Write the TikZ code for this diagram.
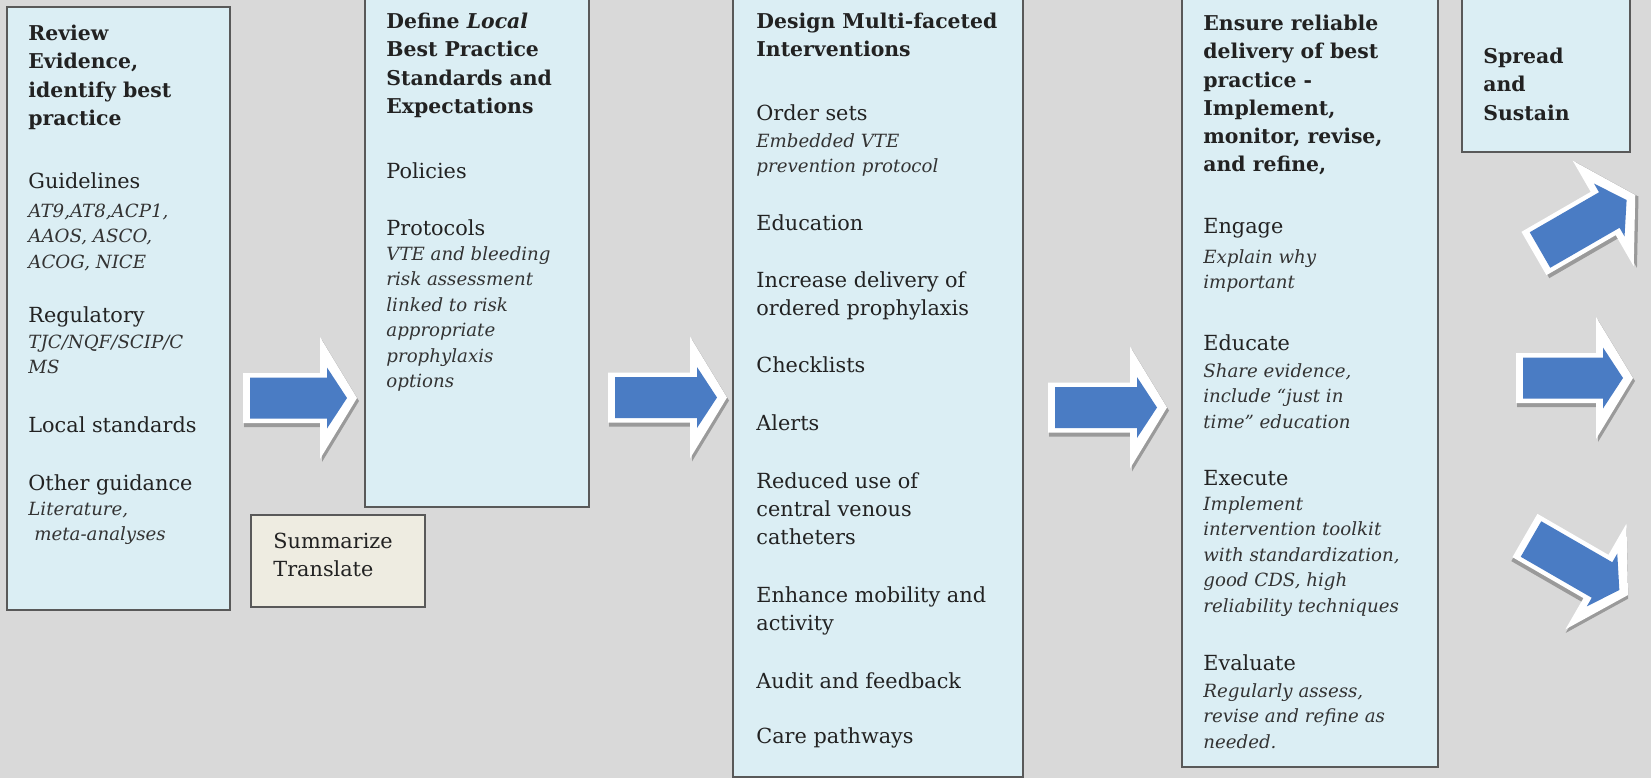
\documentclass[tikz,border=0pt]{standalone}
\usepackage{fontspec}
\setmainfont{DejaVu Serif}
\definecolor{bg}{HTML}{D9D9D9}
\definecolor{boxfill}{HTML}{DBEEF4}
\definecolor{tanfill}{HTML}{EEECE1}
\definecolor{edge}{HTML}{595959}
\definecolor{ablue}{HTML}{4A7CC4}
\definecolor{ashadow}{HTML}{9A9A9A}
\definecolor{ink}{HTML}{222222}
\definecolor{inkit}{HTML}{333333}
\newcommand\Rs{\rule{0pt}{9pt}}
% block arrow: #1,#2 = left-centre of blue body, #3 = angle, #4 = body length
\newcommand\blockarr[4]{%
  \begin{scope}[shift={(#1,#2)},rotate=#3]
    \fill[ashadow] (-6,-22) -- ({#4-5},-22) -- ({#4-5},-58) -- ({#4+32},3) -- ({#4-5},64) -- ({#4-5},29) -- (-6,29) -- cycle;
    \fill[white] (-7,-25) -- ({#4-7},-25) -- ({#4-7},-61) -- ({#4+30},0) -- ({#4-7},61) -- ({#4-7},25) -- (-7,25) -- cycle;
    \fill[ablue] (0,-20.5) -- (#4,-20.5) -- (#4,-30.5) -- ({#4+20},0) -- (#4,30.5) -- (#4,20.5) -- (0,20.5) -- cycle;
  \end{scope}}
\tikzset{
  bx/.style={draw=edge, line width=1.2pt, fill=boxfill},
  tanbx/.style={draw=edge, line width=1.2pt, fill=tanfill},
  rg/.style={anchor=north west, inner sep=0pt, align=left, text=ink, font=\fontsize{10.4}{14}\selectfont},
  bd/.style={rg, font=\bfseries\fontsize{10.2}{14.15}\selectfont},
  it/.style={rg, text=inkit, font=\itshape\fontsize{9.1}{12.75}\selectfont},
}
\begin{document}
\begin{tikzpicture}[x=0.5pt,y=-0.5pt]
\useasboundingbox (0,0) rectangle (1651,778);
\clip (0,0) rectangle (1651,778);
\fill[bg] (0,0) rectangle (1651,778);

% boxes
\draw[bx] (7,7) rectangle (230,610);
\draw[bx] (365,-5) rectangle (589,507);
\draw[tanbx] (251,515) rectangle (425,607);
\draw[bx] (733,-5) rectangle (1023,777);
\draw[bx] (1182,-5) rectangle (1438,767);
\draw[bx] (1462,-5) rectangle (1630,152);

% arrows
\blockarr{250}{398}{0}{77}
\blockarr{615}{397.5}{0}{82}
\blockarr{1055}{407.5}{0}{82}
\blockarr{1540}{250}{30}{80}
\blockarr{1523}{378}{0}{80}
\blockarr{1531}{539}{-30}{82}

% box 1
\node[bd] (b1t) at (28,22) {\Rs Review\\Evidence,\\identify best\\practice};
\node[rg] (b1a) at (28,170) {\Rs Guidelines};
\node[it] (b1ai) at (28,199) {\Rs AT9,AT8,ACP1,\\AAOS, ASCO,\\ACOG, NICE};
\node[rg] (b1b) at (28,304) {\Rs Regulatory};
\node[it] (b1bi) at (28,330) {\Rs TJC/NQF/SCIP/C\\MS};
\node[rg] (b1c) at (28,414) {\Rs Local standards};
\node[rg] (b1d) at (28,472) {\Rs Other guidance};
\node[it] (b1di) at (28,497) {\Rs Literature,\\\hspace{3pt}meta-analyses};

% box 2
\node[bd] (b2t) at (386,10) {\Rs Define \textit{Local}\\Best Practice\\Standards and\\Expectations};
\node[rg] (b2a) at (386,160) {\Rs Policies};
\node[rg] (b2b) at (386,217) {\Rs Protocols};
\node[it] (b2bi) at (386,242) {\Rs VTE and bleeding\\risk assessment\\linked to risk\\appropriate\\prophylaxis\\options};

% summarize
\node[rg] (sm) at (273,530) {\Rs Summarize\\Translate};

% box 3
\node[bd] (b3t) at (756,10) {\Rs Design Multi-faceted\\Interventions};
\node[rg] (b3a) at (756,102) {\Rs Order sets};
\node[it] (b3ai) at (756,129) {\Rs Embedded VTE\\prevention protocol};
\node[rg] (b3b) at (756,212) {\Rs Education};
\node[rg] (b3c) at (756,269) {\Rs Increase delivery of\\ordered prophylaxis};
\node[rg] (b3d) at (756,354) {\Rs Checklists};
\node[rg] (b3e) at (756,412) {\Rs Alerts};
\node[rg] (b3f) at (756,470) {\Rs Reduced use of\\central venous\\catheters};
\node[rg] (b3g) at (756,584) {\Rs Enhance mobility and\\activity};
\node[rg] (b3h) at (756,670) {\Rs Audit and feedback};
\node[rg] (b3i) at (756,725) {\Rs Care pathways};

% box 4
\node[bd] (b4t) at (1203,12) {\Rs Ensure reliable\\delivery of best\\practice -\\Implement,\\monitor, revise,\\and refine,};
\node[rg] (b4a) at (1203,215) {\Rs Engage};
\node[it] (b4ai) at (1203,245) {\Rs Explain why\\important};
\node[rg] (b4b) at (1203,332) {\Rs Educate};
\node[it] (b4bi) at (1203,359) {\Rs Share evidence,\\include ``just in\\time'' education};
\node[rg] (b4c) at (1203,467) {\Rs Execute};
\node[it] (b4ci) at (1203,492) {\Rs Implement\\intervention toolkit\\with standardization,\\good CDS, high\\reliability techniques};
\node[rg] (b4d) at (1203,652) {\Rs Evaluate};
\node[it] (b4di) at (1203,679) {\Rs Regularly assess,\\revise and refine as\\needed.};

% box 5
\node[bd] (b5t) at (1483,45) {\Rs Spread\\and\\Sustain};
\end{tikzpicture}
\end{document}
